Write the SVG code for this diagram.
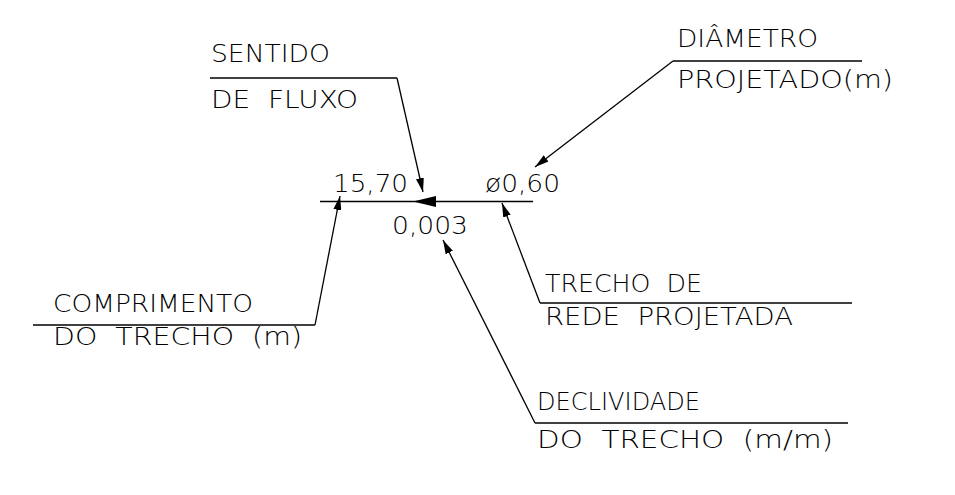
<svg xmlns="http://www.w3.org/2000/svg" width="955" height="495" viewBox="0 0 955 495">
<style>
text{font-family:"DejaVu Sans","Liberation Sans",sans-serif;font-weight:200;font-size:25px;fill:#000;white-space:pre}
.ln{stroke:#000;stroke-width:1.3;fill:none}
</style>
<defs>
<marker id="ah" viewBox="0 0 14 8" refX="14" refY="4" markerWidth="14" markerHeight="8" markerUnits="userSpaceOnUse" orient="auto">
<path d="M0,0 L14,4 L0,8 Z" fill="#000"/>
</marker>
</defs>
<rect width="955" height="495" fill="#fff"/>
<g id="sentido">
<text x="211" y="62" textLength="119" lengthAdjust="spacingAndGlyphs">SENTIDO</text>
<text x="211" y="108" textLength="147" lengthAdjust="spacingAndGlyphs" xml:space="preserve">DE  FLUXO</text>
<line class="ln" x1="210" y1="78" x2="397" y2="78"/>
</g>
<g id="diametro">
<text x="677" y="47" textLength="141" lengthAdjust="spacingAndGlyphs">DIÂMETRO</text>
<text x="677" y="88" textLength="216" lengthAdjust="spacingAndGlyphs">PROJETADO(m)</text>
<line class="ln" x1="673" y1="61" x2="862" y2="61"/>
</g>
<g id="trecho-principal">
<line class="ln" x1="320" y1="201.5" x2="533" y2="201.5"/>
<path d="M413,201.5 L436,196 L436,207 Z" fill="#000"/>
<text x="333" y="192" textLength="75" lengthAdjust="spacingAndGlyphs">15,70</text>
<text x="485" y="192" textLength="75" lengthAdjust="spacingAndGlyphs">ø0,60</text>
<text x="392" y="234" textLength="76" lengthAdjust="spacingAndGlyphs">0,003</text>
</g>
<g id="comprimento">
<text x="53" y="312" textLength="200" lengthAdjust="spacingAndGlyphs">COMPRIMENTO</text>
<text x="53" y="345" textLength="249" lengthAdjust="spacingAndGlyphs" xml:space="preserve">DO  TRECHO  (m)</text>
<line class="ln" x1="33" y1="325" x2="315" y2="325"/>
</g>
<g id="trecho-rede">
<text x="545" y="292" textLength="157" lengthAdjust="spacingAndGlyphs" xml:space="preserve">TRECHO  DE</text>
<text x="545" y="325" textLength="248" lengthAdjust="spacingAndGlyphs" xml:space="preserve">REDE  PROJETADA</text>
<line class="ln" x1="540" y1="303" x2="852" y2="303"/>
</g>
<g id="declividade">
<text x="537" y="410" textLength="163" lengthAdjust="spacingAndGlyphs">DECLIVIDADE</text>
<text x="537" y="448" textLength="296" lengthAdjust="spacingAndGlyphs" xml:space="preserve">DO  TRECHO  (m/m)</text>
<line class="ln" x1="535" y1="423" x2="848" y2="423"/>
</g>
<g id="connectors">
<line class="ln" x1="397" y1="78" x2="423" y2="192" marker-end="url(#ah)"/>
<line class="ln" x1="673" y1="61" x2="535" y2="167" marker-end="url(#ah)"/>
<line class="ln" x1="315" y1="325" x2="340" y2="196" marker-end="url(#ah)"/>
<line class="ln" x1="540" y1="303" x2="502" y2="203" marker-end="url(#ah)"/>
<line class="ln" x1="535" y1="423" x2="443" y2="240" marker-end="url(#ah)"/>
</g>
</svg>
